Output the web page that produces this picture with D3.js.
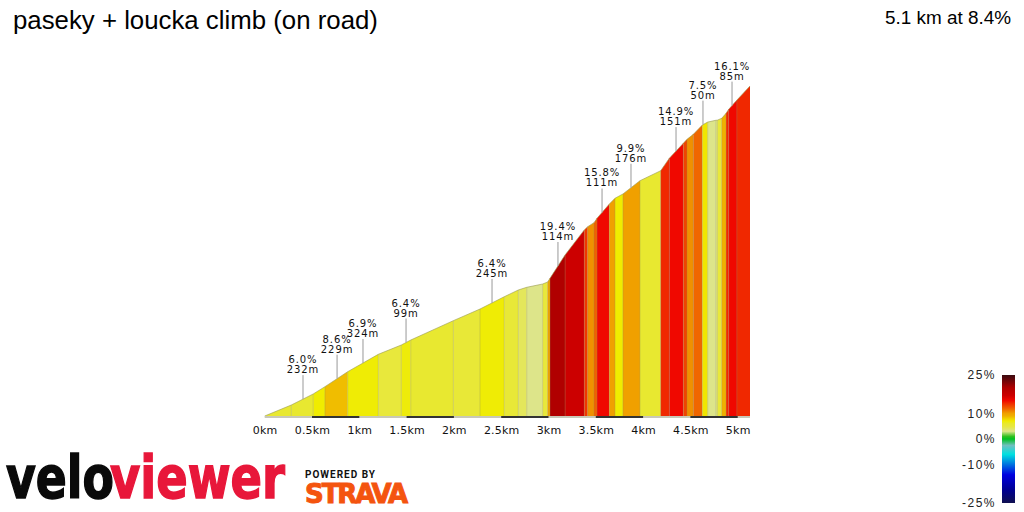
<!DOCTYPE html>
<html>
<head>
<meta charset="utf-8">
<script src="https://cdnjs.cloudflare.com/ajax/libs/d3/7.8.5/d3.min.js"></script>
<style>
html, body { margin: 0; padding: 0; background: #fff; }
svg { display: block; }
</style>
</head>
<body>
<svg id="chart" width="1024" height="512"></svg>
<script>
const titleText = 'paseky + loucka climb (on road)';
const summaryText = '5.1 km at 8.4%';

// profile: km and metres gained at each colour change
const profileKm = [0, 0.281, 0.513, 0.637, 0.877, 1.201, 1.444, 1.544, 1.994, 2.276, 2.532, 2.681, 2.77, 2.938, 2.991, 3.016, 3.175, 3.378, 3.414, 3.481, 3.513, 3.643, 3.703, 3.787, 3.967, 4.186, 4.277, 4.425, 4.464, 4.531, 4.626, 4.683, 4.768, 4.785, 4.831, 4.877, 4.905, 4.992, 5.13];
const profileElev = [0, 14.3, 28.7, 38.2, 57.7, 80.4, 92.5, 99, 124.2, 139.4, 155.4, 164.2, 167.7, 172, 174.6, 179.4, 209.8, 242.4, 246.7, 251.9, 257.6, 276.2, 283.7, 289.3, 306.6, 319.6, 335.8, 355.3, 360.5, 367, 379.2, 383, 385.3, 385.5, 387.9, 394.4, 399.6, 411.7, 430];
// gradient of each segment, judged from its colour
const segmentGrade = [6, 6, 7, 8.6, 6.9, 5, 6.8, 6, 5.4, 6.9, 5.4, 4.2, 3, 5, 9.9, 20, 17, 13.5, 10.5, 12, 15, 10, 7, 10, 6, 14, 15, 13, 10.5, 11.8, 7.2, 3, 3.3, 5.2, 9, 14, 15, 14];

const labelKm = [0.405, 0.765, 1.039, 1.494, 2.403, 3.1, 3.566, 3.872, 4.348, 4.633, 4.94];
const labelGrade = ['6.0%', '8.6%', '6.9%', '6.4%', '6.4%', '19.4%', '15.8%', '9.9%', '14.9%', '7.5%', '16.1%'];
const labelLength = ['232m', '229m', '324m', '99m', '245m', '114m', '111m', '176m', '151m', '50m', '85m'];

const tickKm = [0, 0.5, 1, 1.5, 2, 2.5, 3, 3.5, 4, 4.5, 5];
const legendTicks = [25, 10, 0, -10, -25];
const legendStops = [-25, -20, -14, -10, -6, -2.5, 0, 1, 3, 5, 6, 7, 8, 9, 10, 12, 14, 15, 17, 20, 25];
const legendColors = ['#101050', '#000090', '#0000e0', '#0070e0', '#00e0e0', '#70c0c0', '#00c020', '#30c020', '#dde58a', '#e8e83c', '#e8e830', '#f0ec00', '#f0d000', '#f0b000', '#f0a000', '#f06000', '#f02800', '#f00800', '#cc0000', '#b00000', '#3a0a10'];

const svg = d3.select('#chart');

const x = d3.scaleLinear().domain([0, 5.13]).range([264.7, 750]);
const y = d3.scaleLinear().domain([0, 430]).range([416, 86]);
const color = d3.scaleLinear().domain(legendStops).range(legendColors);
const elevAt = d3.scaleLinear().domain(profileKm).range(profileElev);

svg.append('text')
    .attr('x', 13).attr('y', 29)
    .attr('font-family', 'Liberation Sans').attr('font-size', 25.8)
    .text(titleText);

svg.append('text')
    .attr('x', 1011).attr('y', 24)
    .attr('text-anchor', 'end')
    .attr('font-family', 'Liberation Sans').attr('font-size', 18.9)
    .text(summaryText);

// coloured segments under the profile
const area = d3.area()
    .x(d => x(d.km))
    .y0(y(0))
    .y1(d => y(d.elev));

const segments = segmentGrade.map((grade, i) => ({
    grade: grade,
    points: [
        { km: profileKm[i], elev: profileElev[i] },
        { km: profileKm[i + 1], elev: profileElev[i + 1] }
    ]
}));

svg.append('g').selectAll('path')
    .data(segments)
    .join('path')
    .attr('d', d => area(d.points))
    .attr('fill', d => color(d.grade));

// faint seams between segments
svg.append('g').selectAll('line')
    .data(profileKm.slice(1, -1))
    .join('line')
    .attr('x1', d => x(d)).attr('x2', d => x(d))
    .attr('y1', d => y(elevAt(d))).attr('y2', y(0))
    .attr('stroke', '#8a8a50').attr('stroke-opacity', 0.3);

const topLine = d3.line().x((d, i) => x(profileKm[i])).y(d => y(d));
svg.append('path')
    .attr('d', topLine(profileElev))
    .attr('fill', 'none')
    .attr('stroke', '#9a9a50').attr('stroke-opacity', 0.6);

// base strip, dark on every other half km
svg.append('line')
    .attr('x1', x(0)).attr('x2', x(5.13))
    .attr('y1', 417).attr('y2', 417)
    .attr('stroke', '#c8c8b8').attr('stroke-width', 2);

svg.append('g').selectAll('line')
    .data(tickKm.filter((d, i) => i % 2 == 1))
    .join('line')
    .attr('x1', d => x(d)).attr('x2', d => x(d + 0.5))
    .attr('y1', 417).attr('y2', 417)
    .attr('stroke', '#333').attr('stroke-width', 2);

// km axis
const xAxis = svg.append('g')
    .attr('transform', 'translate(0,417)')
    .call(d3.axisBottom(x).tickValues(tickKm).tickSize(0).tickPadding(9).tickFormat(d => d + 'km'));
xAxis.select('.domain').remove();
xAxis.selectAll('text')
    .attr('font-family', 'DejaVu Sans').attr('font-size', 11)
    .attr('letter-spacing', 0.2).attr('fill', '#111');

// climb labels
const labels = svg.append('g').selectAll('g')
    .data(labelKm)
    .join('g')
    .attr('transform', d => `translate(${x(d)},${y(elevAt(d))})`);

labels.append('line')
    .attr('y1', 0).attr('y2', -24)
    .attr('stroke', '#999');

labels.append('text')
    .attr('y', -36)
    .attr('text-anchor', 'middle')
    .attr('font-family', 'DejaVu Sans').attr('font-size', 10)
    .attr('letter-spacing', 0.9).attr('fill', '#111')
    .text((d, i) => labelGrade[i]);

labels.append('text')
    .attr('y', -26)
    .attr('text-anchor', 'middle')
    .attr('font-family', 'DejaVu Sans').attr('font-size', 10)
    .attr('letter-spacing', 0.9).attr('fill', '#111')
    .text((d, i) => labelLength[i]);

// gradient legend
const legendY = d3.scaleLinear().domain([-25, 25]).range([503, 375]);

const defs = svg.append('defs');
const legendGradient = defs.append('linearGradient')
    .attr('id', 'legend-gradient')
    .attr('x1', 0).attr('x2', 0).attr('y1', 1).attr('y2', 0);
legendGradient.selectAll('stop')
    .data(legendStops)
    .join('stop')
    .attr('offset', d => (d + 25) / 50)
    .attr('stop-color', d => color(d));

svg.append('rect')
    .attr('x', 1002).attr('y', legendY(25))
    .attr('width', 13).attr('height', legendY(-25) - legendY(25))
    .attr('fill', 'url(#legend-gradient)');

const legendAxis = svg.append('g')
    .attr('transform', 'translate(996,0)')
    .call(d3.axisLeft(legendY).tickValues(legendTicks).tickSize(0).tickPadding(0).tickFormat(d => d + '%'));
legendAxis.select('.domain').remove();
legendAxis.selectAll('text')
    .attr('font-family', 'Liberation Sans').attr('font-size', 12)
    .attr('letter-spacing', 1.5).attr('fill', '#222');

// logos
function logoText(str, xPos, yPos, font, size, len, fill, weight, extraStroke, adjust) {
    svg.append('text')
        .attr('x', xPos).attr('y', yPos)
        .attr('font-family', font).attr('font-weight', weight).attr('font-size', size)
        .attr('textLength', len).attr('lengthAdjust', adjust)
        .attr('fill', fill)
        .attr('stroke', fill).attr('stroke-width', extraStroke)
        .text(str);
}
logoText('velo', 6, 498, 'DejaVu Sans', 58, 108, '#0a0a0a', 700, 1.5, 'spacingAndGlyphs');
logoText('viewer', 110, 498, 'DejaVu Sans', 58, 175, '#e8173a', 700, 1.5, 'spacingAndGlyphs');
logoText('POWERED BY', 305, 478, 'Roboto', 10, 70, '#111', 700, 0, 'spacing');
logoText('STRAVA', 305, 503, 'DejaVu Sans', 26, 103, '#f4540f', 700, 1, 'spacing');
</script>
</body>
</html>
